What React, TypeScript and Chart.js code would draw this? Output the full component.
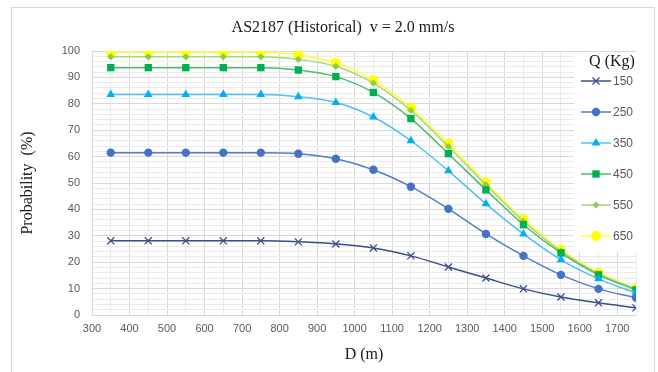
import React, { useEffect, useRef } from "react";
import { Chart, registerables } from "chart.js";
import { drawPoint } from "chart.js/helpers";

Chart.register(...registerables);

const distances = [350, 450, 550, 650, 750, 850, 950, 1050, 1150, 1250, 1350, 1450, 1550, 1650, 1750];
const q150 = [28.1, 28.1, 28.1, 28.1, 28.1, 27.7, 26.9, 25.4, 22.4, 18.2, 14.0, 9.9, 6.8, 4.6, 2.7];
const q250 = [61.5, 61.5, 61.5, 61.5, 61.5, 61.1, 59.2, 55.0, 48.6, 40.2, 30.7, 22.4, 15.2, 9.9, 6.5];
const q350 = [83.5, 83.5, 83.5, 83.5, 83.5, 82.7, 80.5, 75.0, 66.0, 54.6, 42.1, 30.7, 20.9, 13.7, 8.3];
const q450 = [93.7, 93.7, 93.7, 93.7, 93.7, 92.8, 90.3, 84.3, 74.4, 61.1, 47.4, 34.2, 23.5, 15.2, 9.5];
const q550 = [97.8, 97.8, 97.8, 97.8, 97.8, 96.8, 94.2, 87.8, 77.5, 63.8, 49.3, 35.5, 24.2, 15.6, 9.8];
const q650 = [99.5, 99.5, 99.5, 99.5, 99.5, 98.5, 95.5, 89.0, 78.5, 65.0, 50.2, 36.2, 24.7, 16.0, 10.0];
const seriesLabels = ["150", "250", "350", "450", "550", "650"];

const titleText = "AS2187 (Historical)  v = 2.0 mm/s";
const xTitle = "D (m)";
const yTitle = "Probability  (%)";
const legendTitle = "Q (Kg)";

const styles = [
  { line: "#3B4E8C", point: "#3B4E8C", shape: "crossRot", r: 5, bw: 1.3 },
  { line: "#4F7FCC", point: "#4472C4", shape: "circle", r: 4.2, bw: 0 },
  { line: "#4FC0F2", point: "#00B0F0", shape: "triangle", r: 5, bw: 0 },
  { line: "#4DBB75", point: "#00B050", shape: "rect", r: 5.2, bw: 0 },
  { line: "#A6D877", point: "#8CCB4E", shape: "rectRot", r: 3.6, bw: 0 },
  { line: "#FFFF33", point: "#FFFF00", shape: "circle", r: 5, bw: 0 },
];

const serif = "'Liberation Serif', 'Times New Roman', serif";
const sans = "'Liberation Sans', Arial, sans-serif";

const overlayPlugin = {
  id: "overlay",
  afterDraw(chart: any) {
    const ctx = chart.ctx;
    const area = chart.chartArea;
    ctx.save();
    ctx.fillStyle = "#1a1a1a";
    ctx.font = `16px ${serif}`;
    ctx.textAlign = "center";
    ctx.textBaseline = "middle";
    ctx.fillText(titleText, 343, 28);
    ctx.fillText(xTitle, (area.left + area.right) / 2, 355);
    ctx.save();
    ctx.translate(28, (area.top + area.bottom) / 2);
    ctx.rotate(-Math.PI / 2);
    ctx.fillText(yTitle, 0, 0);
    ctx.restore();
    // legend
    ctx.fillStyle = "#ffffff";
    ctx.fillRect(574, 52, 76, 200);
    ctx.fillStyle = "#1a1a1a";
    ctx.font = `16px ${serif}`;
    ctx.fillText(legendTitle, 612, 62);
    chart.data.datasets.forEach((ds: any, i: number) => {
      const y = 81 + i * 31;
      const st = styles[i];
      ctx.strokeStyle = st.line;
      ctx.lineWidth = 1.5;
      ctx.beginPath();
      ctx.moveTo(581, y);
      ctx.lineTo(611, y);
      ctx.stroke();
      ctx.fillStyle = st.point;
      ctx.strokeStyle = st.point;
      ctx.lineWidth = st.bw;
      drawPoint(ctx, { pointStyle: st.shape, radius: st.r, rotation: 0, borderWidth: st.bw }, 596, y);
      ctx.fillStyle = "#595959";
      ctx.font = `12px ${sans}`;
      ctx.textAlign = "left";
      ctx.fillText(ds.label, 613, y + 0.5);
      ctx.textAlign = "center";
    });
    ctx.restore();
  },
};

export default function App() {
  const canvasRef = useRef<HTMLCanvasElement | null>(null);

  useEffect(() => {
    const canvas = canvasRef.current;
    if (!canvas) return;
    const all = [q150, q250, q350, q450, q550, q650];
    const chart = new Chart(canvas, {
      type: "line",
      data: {
        datasets: all.map((vals, i) => ({
          label: seriesLabels[i],
          data: distances.map((d, k) => ({ x: d, y: vals[k] })),
          borderColor: styles[i].line,
          backgroundColor: styles[i].point,
          pointBackgroundColor: styles[i].point,
          pointBorderColor: styles[i].point,
          pointBorderWidth: styles[i].bw,
          pointStyle: styles[i].shape as any,
          pointRadius: styles[i].r,
          borderWidth: 1.5,
          cubicInterpolationMode: "monotone" as const,
          fill: false,
        })),
      },
      options: {
        animation: false,
        responsive: false,
        maintainAspectRatio: false,
        layout: { padding: { top: 51, right: 22, left: 0, bottom: 0 } },
        plugins: {
          legend: { display: false },
          title: { display: false },
          tooltip: { enabled: false },
        },
        scales: {
          x: {
            type: "linear",
            min: 300,
            max: 1750,
            afterFit: (s: any) => {
              s.height = 57;
            },
            ticks: {
              stepSize: 50,
              autoSkip: false,
              maxRotation: 0,
              padding: 7,
              color: "#595959",
              font: { family: sans, size: 11 },
              callback: (v: any) => (Number(v) % 100 === 0 ? String(v) : ""),
            },
            grid: {
              drawTicks: false,
              color: (c: any) => (c.tick && c.tick.value % 100 === 0 ? "#d9d9d9" : "#ebebeb"),
            },
            border: { color: "#d9d9d9" },
          },
          y: {
            min: 0,
            max: 100,
            afterFit: (s: any) => {
              s.width = 92;
            },
            ticks: {
              stepSize: 2,
              autoSkip: false,
              padding: 12,
              color: "#595959",
              font: { family: sans, size: 11 },
              callback: (v: any) => (Number(v) % 10 === 0 ? String(v) : ""),
            },
            grid: {
              drawTicks: false,
              color: (c: any) => (c.tick && c.tick.value % 10 === 0 ? "#d9d9d9" : "#ebebeb"),
            },
            border: { color: "#d9d9d9" },
          },
        },
      },
      plugins: [overlayPlugin],
    });
    return () => chart.destroy();
  }, []);

  return (
    <div style={{ position: "fixed", left: 0, top: 0, width: 658, height: 372, background: "#ffffff" }}>
      <div
        style={{
          position: "absolute",
          left: 11,
          top: 7,
          width: 644,
          height: 372,
          border: "1px solid #d9d9d9",
          boxSizing: "border-box",
        }}
      />
      <canvas ref={canvasRef} width={658} height={372} style={{ position: "absolute", left: 0, top: 0 }} />
    </div>
  );
}
